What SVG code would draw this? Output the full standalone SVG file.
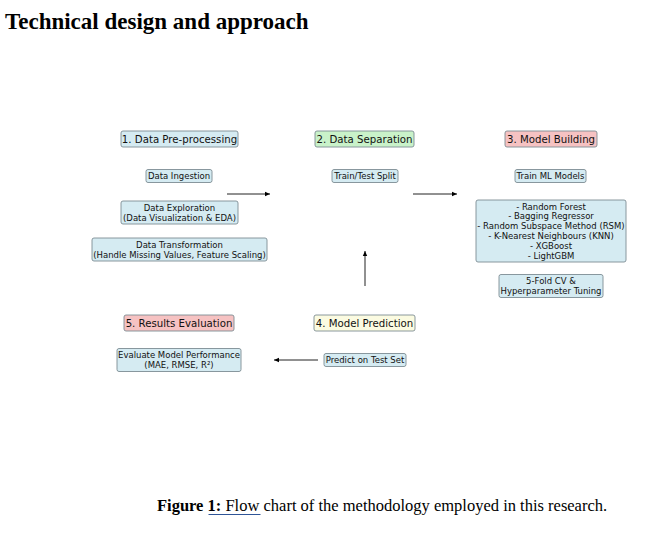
<svg xmlns="http://www.w3.org/2000/svg" width="652" height="538" viewBox="0 0 652 538">
<defs>
<marker id="ah" markerWidth="6" markerHeight="6" refX="5" refY="3" orient="auto" markerUnits="userSpaceOnUse">
<path d="M0,0.8 L5,3 L0,5.2 z" fill="#000"/>
</marker>
<style>
.b{fill:#d5ebf2;stroke:#7d8c93;stroke-width:0.9}
.g{fill:#c9f2c9;stroke:#7d8c93;stroke-width:0.9}
.r{fill:#f6c2c2;stroke:#7d8c93;stroke-width:0.9}
.y{fill:#fbfbe1;stroke:#7d8c93;stroke-width:0.9}
.h{font-family:"DejaVu Sans",sans-serif;font-size:10.2px;fill:#111;text-anchor:middle}
.s{font-family:"DejaVu Sans",sans-serif;font-size:8.5px;fill:#111;text-anchor:middle}
.c{stroke:#222;stroke-width:1;fill:none;marker-end:url(#ah)}
</style>
</defs>
<rect width="652" height="538" fill="#fff"/>
<text x="5" y="29" font-family="Liberation Serif, serif" font-weight="bold" font-size="23" fill="#000">Technical design and approach</text>

<g id="n1"><rect class="b" x="121" y="131" width="117" height="16" rx="2"/><text class="h" x="179.5" y="142.6">1. Data Pre-processing</text></g>
<g id="n1a"><rect class="b" x="146" y="169.5" width="66" height="13" rx="2"/><text class="s" x="179" y="179">Data Ingestion</text></g>
<g id="n1b"><rect class="b" x="121" y="201" width="117" height="23" rx="2"/><text class="s" x="179.5" y="210.7">Data Exploration</text><text class="s" x="179.5" y="220.5">(Data Visualization &amp; EDA)</text></g>
<g id="n1c"><rect class="b" x="92" y="238" width="175" height="23" rx="2"/><text class="s" x="179.5" y="247.7">Data Transformation</text><text class="s" x="179.5" y="257.5">(Handle Missing Values, Feature Scaling)</text></g>

<g id="n2"><rect class="g" x="315" y="131" width="99" height="16" rx="2"/><text class="h" x="364.5" y="142.6">2. Data Separation</text></g>
<g id="n2a"><rect class="b" x="332" y="169.5" width="66" height="13" rx="2"/><text class="s" x="365" y="179">Train/Test Split</text></g>

<g id="n3"><rect class="r" x="505" y="131" width="92" height="16" rx="2"/><text class="h" x="551" y="142.6">3. Model Building</text></g>
<g id="n3a"><rect class="b" x="515" y="169.5" width="71" height="13" rx="2"/><text class="s" x="550.5" y="179">Train ML Models</text></g>
<g id="n3b"><rect class="b" x="476" y="200" width="150" height="62" rx="2"/>
<text class="s" x="551" y="209.5">- Random Forest</text>
<text class="s" x="551" y="219.3">- Bagging Regressor</text>
<text class="s" x="551" y="229.1">- Random Subspace Method (RSM)</text>
<text class="s" x="551" y="238.9">- K-Nearest Neighbours (KNN)</text>
<text class="s" x="551" y="248.7">- XGBoost</text>
<text class="s" x="551" y="258.5">- LightGBM</text></g>
<g id="n3c"><rect class="b" x="499" y="274.5" width="104" height="23" rx="2"/><text class="s" x="551" y="284.2">5-Fold CV &amp;</text><text class="s" x="551" y="294">Hyperparameter Tuning</text></g>

<g id="n4"><rect class="y" x="314" y="315" width="101" height="16" rx="2"/><text class="h" x="364.5" y="326.6">4. Model Prediction</text></g>
<g id="n4a"><rect class="b" x="324" y="353.5" width="82" height="13" rx="2"/><text class="s" x="365" y="363">Predict on Test Set</text></g>

<g id="n5"><rect class="r" x="124" y="315" width="110" height="16" rx="2"/><text class="h" x="179" y="326.6">5. Results Evaluation</text></g>
<g id="n5a"><rect class="b" x="117" y="348.5" width="124" height="23" rx="2"/><text class="s" x="179" y="358.2">Evaluate Model Performance</text><text class="s" x="179" y="368">(MAE, RMSE, R²)</text></g>

<g id="connectors">
<line class="c" x1="227" y1="194" x2="270" y2="194"/>
<line class="c" x1="413" y1="194" x2="457" y2="194"/>
<line class="c" x1="365" y1="286" x2="365" y2="251"/>
<line class="c" x1="318" y1="360" x2="274" y2="360"/>
</g>

<text x="157" y="511" font-family="Liberation Serif, serif" font-size="16.5" fill="#000"><tspan font-weight="bold">Figure 1:</tspan> Flow chart of the methodology employed in this research.</text>
<line x1="208.5" y1="514.5" x2="260.5" y2="514.5" stroke="#2f5597" stroke-width="1"/>
</svg>
